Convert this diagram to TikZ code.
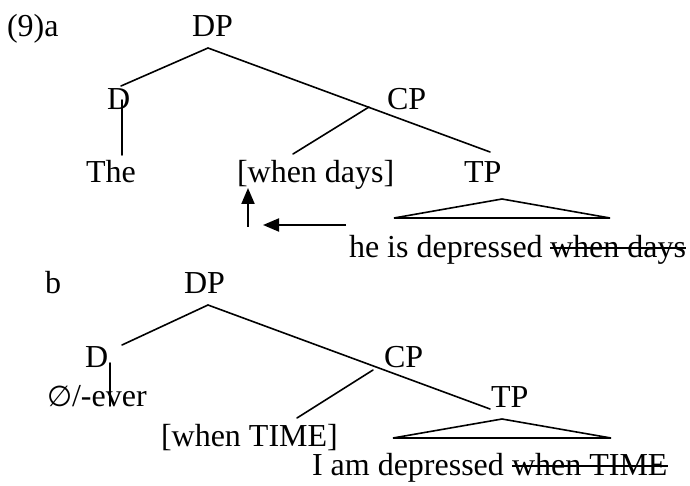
\documentclass[tikz,border=0pt]{standalone}
\usepackage{fontspec}
\setmainfont{Liberation Serif}
\newfontfamily\symfont{DejaVu Sans}[Scale=0.9]
\usetikzlibrary{arrows.meta}
\tikzset{
  lbl/.style={anchor=base west, inner sep=0pt, outer sep=0pt, font=\fontsize{32}{38}\selectfont},
  branch/.style={line width=1.6pt, line cap=round},
  movearrow/.style={line width=2pt, -{Triangle[length=16pt,width=13pt]}},
  strike/.style={line width=1.8pt}
}
\begin{document}
\begin{tikzpicture}[x=1pt,y=-1pt]
\useasboundingbox (0,0) rectangle (690,486);
% ---------- (9a) ----------
\node[lbl] (numa) at (7,37) {(9)a};
\node[lbl] (dpa) at (192,37) {DP};
\node[lbl] (da) at (107,110) {D};
\node[lbl] (cpa) at (387,110) {CP};
\node[lbl] (thea) at (86,183) {The};
\node[lbl] (wda) at (237,183) {[when days]};
\node[lbl] (tpa) at (464,183) {TP};
\node[lbl] (hea) at (349,258) {he is depressed};
\node[lbl] (sta) at (550,258) {when days};
\draw[strike] ([yshift=10pt]sta.base west) -- ([yshift=10pt]sta.base east);

\coordinate (dpa-b) at (208,48);
\coordinate (da-t) at (121,86);
\coordinate (tpa-t) at (490,152);
\coordinate (cpa-b) at (369,107);
\coordinate (wda-t) at (293,154);
\coordinate (da-b) at (122,100);
\coordinate (thea-t) at (122,155);
\coordinate (tria-a) at (502,199);
\coordinate (tria-l) at (394,218);
\coordinate (tria-r) at (610,218);
\coordinate (arru-s) at (248,227);
\coordinate (arru-e) at (248,188);
\coordinate (arrl-s) at (346,225);
\coordinate (arrl-e) at (263,225);

\draw[branch] (da-t) -- (dpa-b) -- (tpa-t);
\draw[branch] (cpa-b) -- (wda-t);
\draw[branch] (da-b) -- (thea-t);
\draw[branch, line join=miter] (tria-l) -- (tria-a) -- (tria-r) -- cycle;
\draw[movearrow] (arru-s) -- (arru-e);
\draw[movearrow] (arrl-s) -- (arrl-e);

% ---------- (9b) ----------
\node[lbl] (numb) at (45,293) {b};
\node[lbl] (dpb) at (184,293) {DP};
\node[lbl] (db) at (85,367) {D};
\node[lbl] (cpb) at (384,367) {CP};
\node[lbl] (everb) at (47,406) {{\symfont ∅}/-ever};
\node[lbl] (tpb) at (491,407) {TP};
\node[lbl] (wtb) at (161,446) {[when TIME]};
\node[lbl] (iamb) at (312,475) {I am depressed};
\node[lbl] (stb) at (512,475) {when TIME};
\draw[strike] ([yshift=9pt]stb.base west) -- ([yshift=9pt]stb.base east);

\coordinate (dpb-b) at (208,305);
\coordinate (db-t) at (122,345);
\coordinate (tpb-t) at (490,409);
\coordinate (cpb-b) at (373,370);
\coordinate (wtb-t) at (297,418);
\coordinate (db-b) at (110,363);
\coordinate (everb-t) at (110,406);
\coordinate (trib-a) at (502,419);
\coordinate (trib-l) at (393,438);
\coordinate (trib-r) at (611,438);

\draw[branch] (db-t) -- (dpb-b) -- (tpb-t);
\draw[branch] (cpb-b) -- (wtb-t);
\draw[branch] (db-b) -- (everb-t);
\draw[branch, line join=miter] (trib-l) -- (trib-a) -- (trib-r) -- cycle;
\end{tikzpicture}
\end{document}
